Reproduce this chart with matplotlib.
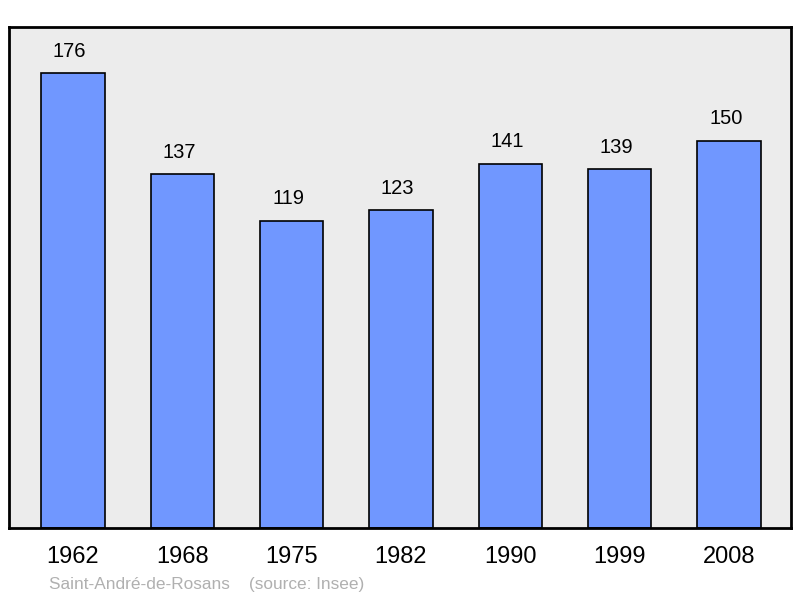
import matplotlib.pyplot as plt

years = ['1962', '1968', '1975', '1982', '1990', '1999', '2008']
population = [176, 137, 119, 123, 141, 139, 150]

plt.rcParams['font.family'] = ['Liberation Sans', 'DejaVu Sans']

fig = plt.figure(figsize=(8, 5.98), dpi=100)
ax = fig.add_axes([9 / 800, 1 - 528 / 598, 782 / 800, 501 / 598])
ax.set_facecolor('#ececec')

x = range(len(years))
ax.bar(x, population, width=0.58, color='#7097ff', edgecolor='black', linewidth=1.2, zorder=2)
for xi, v in zip(x, population):
    ax.text(xi - 0.03, v + 8.5, str(v), ha='center', va='center', fontsize=14.5)

ax.set_xlim(-0.585, 6.567)
ax.set_ylim(0, 194)
ax.set_yticks([])
ax.set_xticks(list(x))
ax.set_xticklabels(years, fontsize=17)
ax.tick_params(axis='x', length=0, pad=13)
for s in ax.spines.values():
    s.set_linewidth(2)

fig.text(49 / 800, 1 - 584 / 598, 'Saint-André-de-Rosans    (source: Insee)',
         color='#b0b0b0', fontsize=12.4, va='center', ha='left')

fig.savefig('out.png', dpi=100)
